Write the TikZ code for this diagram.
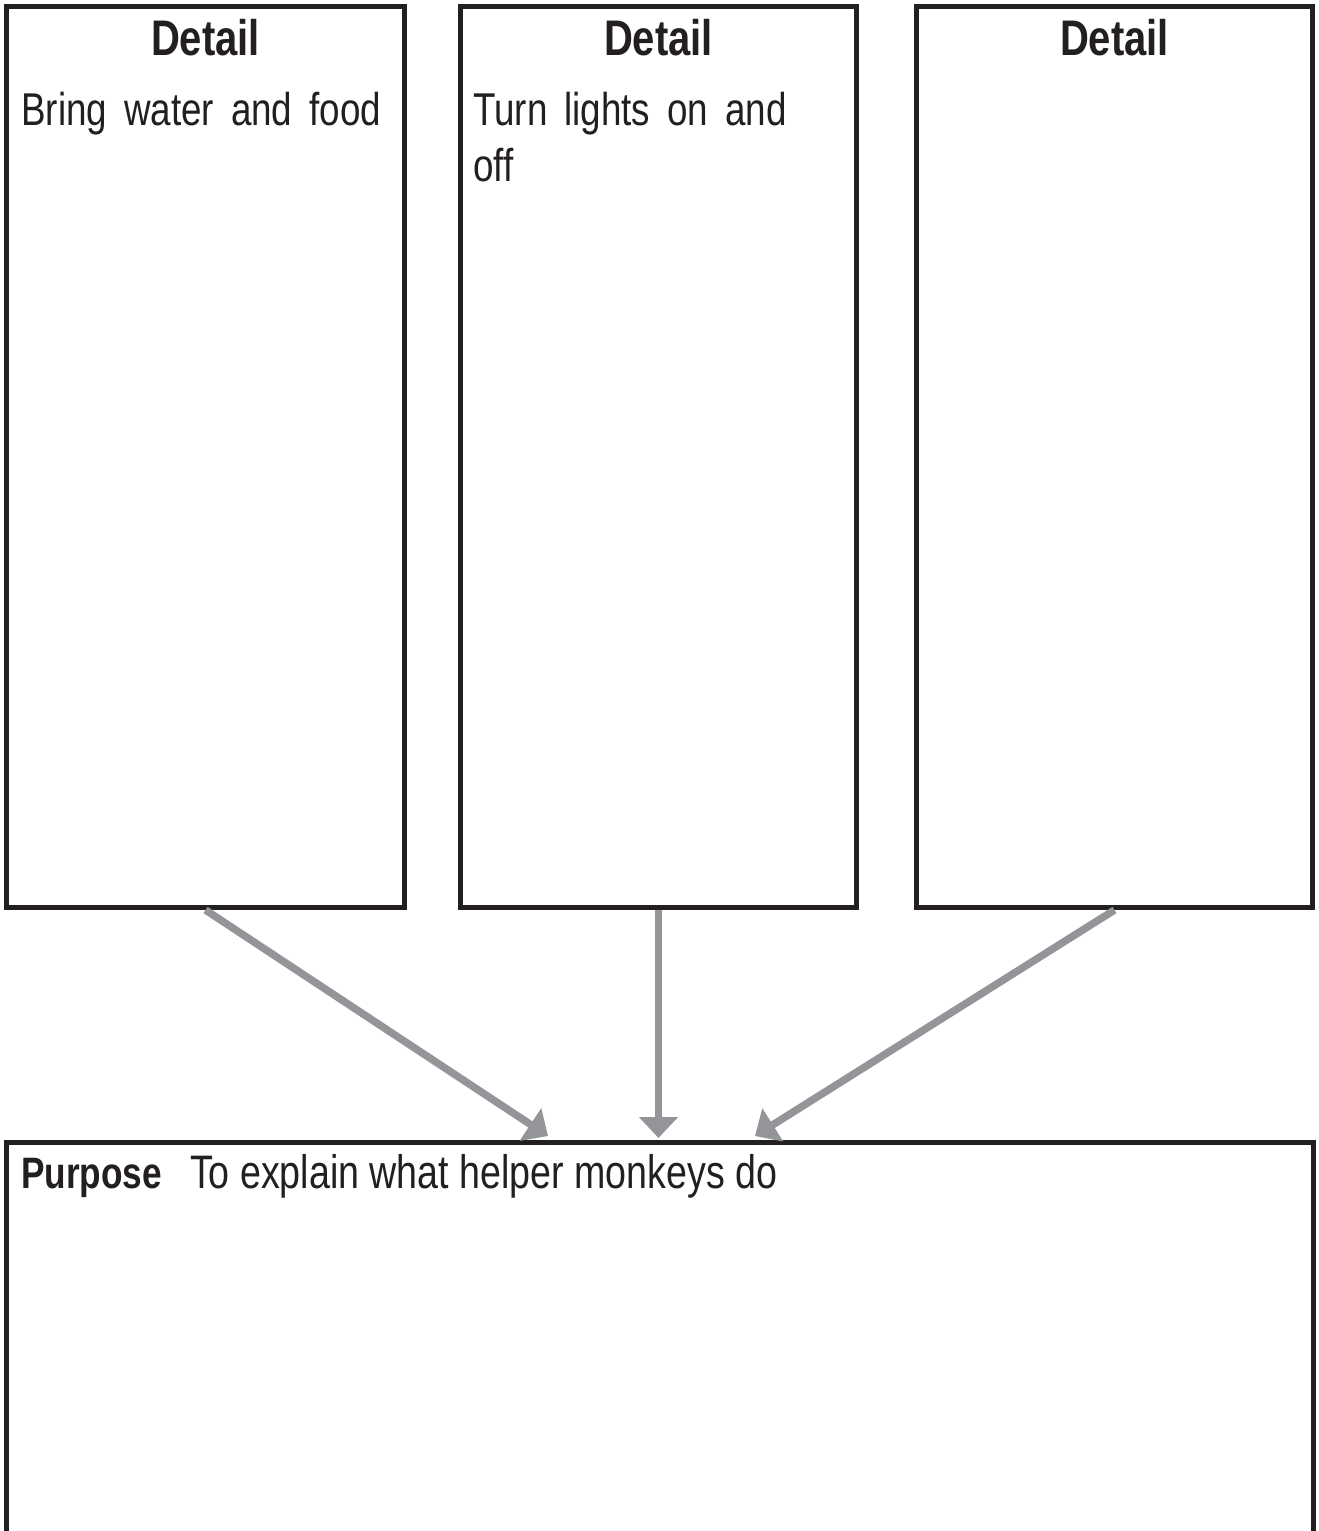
\documentclass[tikz,border=0pt]{standalone}
\usepackage{fontspec}
\setmainfont{Liberation Sans}[FakeStretch=0.8]
\usetikzlibrary{arrows.meta}
\definecolor{boxline}{HTML}{231F20}
\definecolor{arrowgray}{HTML}{939598}
\begin{document}
\begin{tikzpicture}[x=1pt,y=-1pt,
  boxframe/.style={draw=boxline,line width=5pt,inner sep=0pt,fill=white},
  flow/.style={draw=arrowgray,line width=7.5pt,-{Triangle[width=38pt,length=21pt]}},
  heading/.style={font=\fontsize{50}{56}\selectfont\bfseries,anchor=base,inner sep=0pt,text=boxline},
  body/.style={font=\fontsize{46}{56}\selectfont,anchor=base west,inner sep=0pt,align=left,text=boxline}]
\useasboundingbox (0,0) rectangle (1319,1531);
\clip (0,0) rectangle (1319,1531);
% boxes
\node[boxframe,minimum width=398pt,minimum height=901pt] (d1) at (205.5,457) {};
\node[boxframe,minimum width=396pt,minimum height=901pt] (d2) at (658.5,457) {};
\node[boxframe,minimum width=396pt,minimum height=901pt] (d3) at (1114.5,457) {};
\node[boxframe,minimum width=1307pt,minimum height=460pt] (pb) at (660,1372.5) {};
% arrow end points
\coordinate (e1) at (548,1136);
\coordinate (e2) at (658.5,1138);
\coordinate (e3) at (755,1136);
\draw[flow] (d1.south) -- (e1);
\draw[flow] (d2.south) -- (e2);
\draw[flow] (d3.south) -- (e3);
% texts
\node[heading] (h1) at (205.5,55) {Detail};
\node[heading] (h2) at (658.5,55) {Detail};
\node[heading] (h3) at (1114.5,55) {Detail};
\node[body] (t1) at (21,125) {\spaceskip=17pt Bring water and food};
\node[body] (t2) at (473,181) {\spaceskip=17pt Turn lights on and\\off};
\node[body] (pt) at (21,1188) {{\fontsize{44}{56}\selectfont\bfseries Purpose}\hspace{28pt}{\fontsize{47}{56}\selectfont To explain what helper monkeys do}};
\end{tikzpicture}
\end{document}
